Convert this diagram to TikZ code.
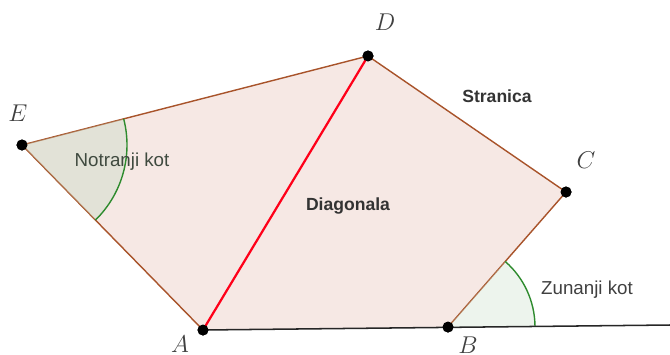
\documentclass[tikz,border=0pt]{standalone}
\usepackage{fontspec}
\setsansfont{Liberation Sans}
\usetikzlibrary{angles, positioning}

\definecolor{edgebrown}{HTML}{A8532A}
\definecolor{areapink}{HTML}{F6E8E4}
\definecolor{arcgreen}{HTML}{2E8B2E}
\definecolor{innertext}{HTML}{3F4A3F}

\begin{document}
\begin{tikzpicture}[
  x=0.03cm, y=-0.03cm,
  font=\sffamily\fontsize{16}{18}\selectfont,
  vertex/.style={circle, fill=black, inner sep=0pt, minimum size=3.3mm},
  ptlabel/.style={font=\fontsize{21}{23}\selectfont, text=black!75},
  side/.style={draw=edgebrown, line width=1.2pt, line join=round},
  diag/.style={draw=red!90!magenta, line width=1.9pt},
  ray/.style={draw=black!85, line width=1.3pt},
  intangle/.style={draw=arcgreen, line width=1.2pt, fill=black!60!green!25, fill opacity=0.35, angle radius=3.15cm},
  extangle/.style={draw=arcgreen, line width=1.2pt, fill=green!40!black!20, fill opacity=0.35, angle radius=2.61cm},
  caption/.style={text=black!75}
]
\useasboundingbox (0,0) rectangle (670,354);

% Vertices of the pentagon
\node[vertex] (A) at (203,330) {};
\node[vertex] (B) at (448,327) {};
\node[vertex] (C) at (566,192) {};
\node[vertex] (D) at (368,56) {};
\node[vertex] (E) at (22,145) {};
\coordinate (X) at (670,325);

% Area and sides
\fill[areapink] (A.center) -- (B.center) -- (C.center) -- (D.center) -- (E.center) -- cycle;
\draw[side] (B.center) -- (C.center) -- (D.center) -- (E.center) -- (A.center);

% Angles
\pic[intangle] {angle = A--E--D};
\pic[extangle] {angle = X--B--C};

% Diagonal and extended side
\draw[diag] (A.center) -- (D.center);
\draw[ray] (A.center) -- (X);

% Redraw the points on top
\foreach \p in {A,B,C,D,E}
  \node[vertex] at (\p) {};

% Point labels
\node[ptlabel] at (180,344) {$A$};
\node[ptlabel] at (468,345) {$B$};
\node[ptlabel] at (586,160) {$C$};
\node[ptlabel] at (385,22) {$D$};
\node[ptlabel] at (18,113) {$E$};

% Texts
\node[font=\sffamily\bfseries\fontsize{15}{18}\selectfont, text=black!80] (stranica) at (497,96) {Stranica};
\node[font=\sffamily\bfseries\fontsize{15}{18}\selectfont, text=black!80] (diagonala) at (348,206) {Diagonala};
\node[caption, text=innertext] (notranji) at (122,162) {Notranji kot};
\node[caption] (zunanji) at (587,290) {Zunanji kot};

\end{tikzpicture}
\end{document}
